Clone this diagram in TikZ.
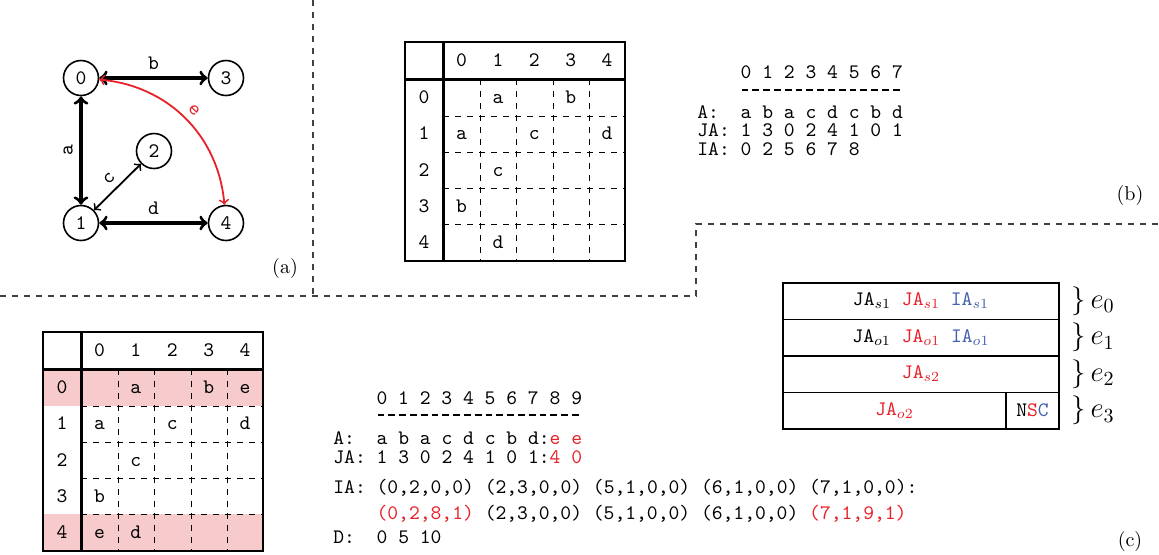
\documentclass[tikz,border=0pt]{standalone}
\definecolor{myred}{RGB}{232,32,40}
\definecolor{myblue}{RGB}{66,96,176}
\definecolor{mypink}{RGB}{247,203,203}
\tikzset{
 tt/.style={font=\fontsize{10.3}{12}\selectfont\ttfamily\frenchspacing},
 vtx/.style={circle,draw,line width=0.8pt,minimum size=17.5pt,inner sep=0pt,tt},
 bigedge/.style={<->,line width=1.6pt},
 smalledge/.style={<->,line width=0.9pt},
 sepline/.style={dashed,line width=0.6pt,black!75},
 tabthin/.style={line width=0.55pt},
 tabthick/.style={line width=1.5pt},
 griddash/.style={dashed,line width=0.5pt},
 cell/.style={tt,text height=6.1pt,text depth=0pt,inner sep=0pt},
 txt/.style={tt,anchor=base west,inner sep=0pt},
 hyph/.style={line width=0.6pt,dash pattern=on 3.4pt off 2pt},
 capt/.style={font=\fontsize{10}{12}\selectfont\rmfamily,inner sep=0pt},
 boxline/.style={line width=0.8pt},
 elab/.style={anchor=west,inner sep=0pt,font=\Large},
}
\newcommand\tabgrid{%
 \draw[tabthin] (405,42) rectangle (625,261);
 \foreach \x in {480,516,553,589} \draw[griddash] (\x,79) -- (\x,261);
 \foreach \y in {116,152,188,224} \draw[griddash] (443,\y) -- (625,\y);
 \draw[tabthick] (443,42) -- (443,261);
 \draw[tabthick] (405,79) -- (625,79);
 \foreach \c in {0,...,4} \node[cell] (h\c) at ({461.5+36.4*\c},60.5) {\c};
 \foreach \r in {0,...,4} \node[cell] (r\r) at (424,{97.5+36.25*\r}) {\r};
 \foreach \c/\r/\l in {1/0/a,3/0/b,0/1/a,2/1/c,4/1/d,1/2/c,0/3/b,1/4/d}
   \node[cell] (e\c\r) at ({461.5+36.4*\c},{97.5+36.25*\r}) {\l};
}
\begin{document}
\begin{tikzpicture}[x=0.5pt,y=-0.5pt]
\useasboundingbox (0,0) rectangle (1159,554);
% separators
\draw[sepline] (313,0) -- (313,296);
\draw[sepline] (0,296) -- (696,296) -- (696,224) -- (1159,224);
% (a) graph
\node[vtx] (g0) at (81,78) {0};
\node[vtx] (g3) at (226,78) {3};
\node[vtx] (g2) at (154,151) {2};
\node[vtx] (g1) at (81,223) {1};
\node[vtx] (g4) at (226,223) {4};
\draw[bigedge] (g0) -- node[tt,above] (lb) {b} (g3);
\draw[bigedge] (g1) -- node[tt,sloped,above] (la) {a} (g0);
\draw[bigedge] (g1) -- node[tt,above] (ld) {d} (g4);
\draw[smalledge] (g1) -- node[tt,sloped,above] (lc) {c} (g2);
\draw[smalledge,myred] (g0) to[bend left=40] node[tt,sloped,above] (le) {e} (g4);
\node[capt] (capa) at (285,268) {(a)};
% (b) table
\begin{scope}[name prefix=B-]
\tabgrid
\end{scope}
% (b) CSR
\node[txt] (bh) at (740.3,78) {0 1 2 3 4 5 6 7};
\draw[hyph] (741.5,90) -- (901,90);
\node[txt] (bA) at (697,118) {A:~~a b a c d c b d};
\node[txt] (bJA) at (697,136.5) {JA: 1 3 0 2 4 1 0 1};
\node[txt] (bIA) at (697,155) {IA: 0 2 5 6 7 8};
\node[capt] (capb) at (1130,195) {(b)};
% (c) table
\begin{scope}[shift={(-362,290)},name prefix=C-]
\fill[mypink] (405,79) rectangle (625,116);
\fill[mypink] (405,224) rectangle (625,261);
\tabgrid
\node[cell] (e40) at ({461.5+36.4*4},97.5) {e};
\node[cell] (e04) at (461.5,242.5) {e};
\end{scope}
% (c) CSR
\node[txt] (ch) at (376.2,404) {0 1 2 3 4 5 6 7 8 9};
\draw[hyph] (377.5,415) -- (580,415);
\node[txt] (cA) at (333,444) {A:~~a b a c d c b d:\textcolor{myred}{e e}};
\node[txt] (cJA) at (333,463) {JA: 1 3 0 2 4 1 0 1:\textcolor{myred}{4 0}};
\node[txt] (cIA) at (333,493) {IA: (0,2,0,0) (2,3,0,0) (5,1,0,0) (6,1,0,0) (7,1,0,0):};
\node[txt] (cIB) at (376.2,519) {\textcolor{myred}{(0,2,8,1)} (2,3,0,0) (5,1,0,0) (6,1,0,0) \textcolor{myred}{(7,1,9,1)}};
\node[txt] (cD) at (333,543) {D:~~0 5 10};
% e box
\draw[boxline] (783,283) rectangle (1059,429);
\draw[boxline] (783,319.5) -- (1059,319.5);
\draw[boxline] (783,356) -- (1059,356);
\draw[boxline] (783,392.5) -- (1059,392.5);
\draw[boxline] (1006,392.5) -- (1006,429);
\node[tt] (x0) at (921,301) {$\texttt{JA}_{s1}$ \textcolor{myred}{$\texttt{JA}_{s1}$} \textcolor{myblue}{$\texttt{IA}_{s1}$}};
\node[tt] (x1) at (921,337.5) {$\texttt{JA}_{o1}$ \textcolor{myred}{$\texttt{JA}_{o1}$} \textcolor{myblue}{$\texttt{IA}_{o1}$}};
\node[tt] (x2) at (921,374) {\textcolor{myred}{$\texttt{JA}_{s2}$}};
\node[tt] (x3) at (894.5,410.5) {\textcolor{myred}{$\texttt{JA}_{o2}$}};
\node[tt] (x4) at (1032.5,410.5) {N\textcolor{myred}{S}\textcolor{myblue}{C}};
\node[elab] (E0) at (1071,301) {$\}\,e_0$};
\node[elab] (E1) at (1071,337.5) {$\}\,e_1$};
\node[elab] (E2) at (1071,374) {$\}\,e_2$};
\node[elab] (E3) at (1071,410.5) {$\}\,e_3$};
\node[capt] (capc) at (1130,541) {(c)};
\end{tikzpicture}
\end{document}
